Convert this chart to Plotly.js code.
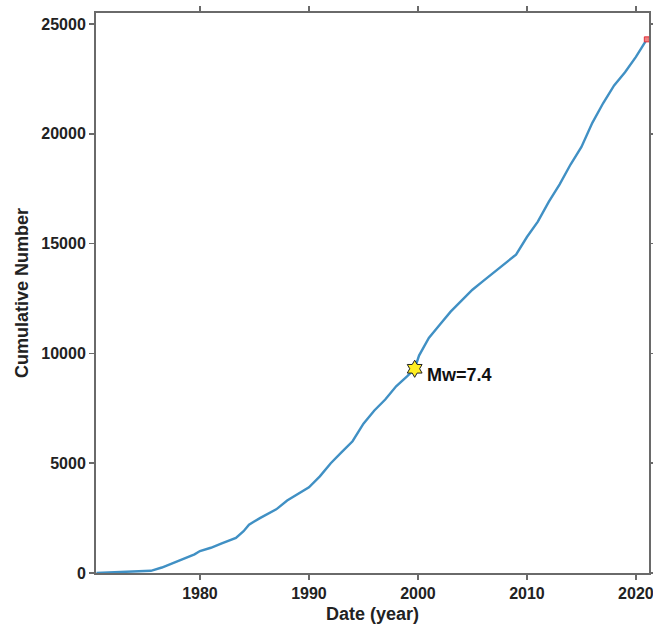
<!DOCTYPE html>
<html>
<head>
<meta charset="utf-8">
<script src="https://cdn.plot.ly/plotly-3.0.1.min.js"></script>
<style>html,body{margin:0;padding:0;background:#fff;overflow:hidden;}#chart{width:653px;height:631px;}</style>
</head>
<body>
<div id="chart"></div>
<script>
const years = [1970.5, 1972, 1974, 1975.5, 1976.5, 1978, 1979.5, 1980, 1981, 1982, 1983.3, 1984, 1984.5, 1985.5, 1987, 1988, 1989.2, 1990, 1991, 1992, 1993, 1994, 1995, 1996, 1997, 1998, 1999, 1999.7, 2000.1, 2001, 2002, 2003, 2004, 2005, 2006, 2007, 2008, 2009, 2010, 2011, 2012, 2013, 2014, 2015, 2016, 2017, 2018, 2019, 2020, 2021];
const counts = [0, 20, 50, 100, 250, 550, 850, 1000, 1150, 1350, 1600, 1900, 2200, 2500, 2900, 3300, 3650, 3900, 4400, 5000, 5500, 6000, 6800, 7400, 7900, 8500, 8950, 9300, 9900, 10700, 11300, 11900, 12400, 12900, 13300, 13700, 14100, 14500, 15300, 16000, 16900, 17700, 18600, 19400, 20500, 21400, 22200, 22800, 23500, 24300];
const quakeYear = [1999.7];
const quakeCount = [9300];
const quakeLabel = 'Mw=7.4';
const lastYear = [2021.0];
const lastCount = [24300];
const xTicks = [1980, 1990, 2000, 2010, 2020];
const yTicks = [0, 5000, 10000, 15000, 20000, 25000];

const FONT = 'Liberation Sans, Arial, sans-serif';
const traces = [
  {x: years, y: counts, mode: 'lines', line: {color: '#4090c4', width: 2.4}, hoverinfo: 'skip'},
  {x: quakeYear, y: quakeCount, mode: 'markers', marker: {symbol: 'hexagram', size: 13, color: '#ffee22', line: {color: '#222', width: 1}}},
  {x: lastYear, y: lastCount, mode: 'markers', marker: {symbol: 'square', size: 5, color: '#f08080', line: {color: '#e0303a', width: 1}}}
];

const axisCommon = {
  showgrid: false, zeroline: false, showline: true, linecolor: '#6a6a6a', linewidth: 2,
  mirror: 'ticks', ticks: 'outside', ticklen: 5, tickwidth: 1.5, tickcolor: '#6a6a6a',
  ticklabeloverflow: 'allow',
  tickfont: {family: FONT, size: 16, color: '#222', weight: 'bold'}
};

const layout = {
  width: 653, height: 631,
  margin: {l: 96, r: 4, t: 13, b: 58},
  paper_bgcolor: '#fff', plot_bgcolor: '#fff',
  showlegend: false,
  xaxis: Object.assign({}, axisCommon, {
    range: [1970.46, 2021.2], tickvals: xTicks, ticktext: xTicks.map(String),
    title: {text: '<b>Date (year)</b>', font: {family: FONT, size: 18, color: '#222'}, standoff: 6}
  }),
  yaxis: Object.assign({}, axisCommon, {
    range: [0, 25500], tickvals: yTicks, ticktext: yTicks.map(String),
    title: {text: '<b>Cumulative Number</b>', font: {family: FONT, size: 18, color: '#222'}, standoff: 8}
  }),
  annotations: [{
    x: quakeYear[0], y: quakeCount[0], xref: 'x', yref: 'y', text: '<b>' + quakeLabel + '</b>',
    showarrow: false, xanchor: 'left', yanchor: 'middle', xshift: 10, yshift: -6,
    font: {family: FONT, size: 18, color: '#111'}
  }]
};

Plotly.newPlot('chart', traces, layout, {displayModeBar: false, staticPlot: true});
</script>
</body>
</html>
